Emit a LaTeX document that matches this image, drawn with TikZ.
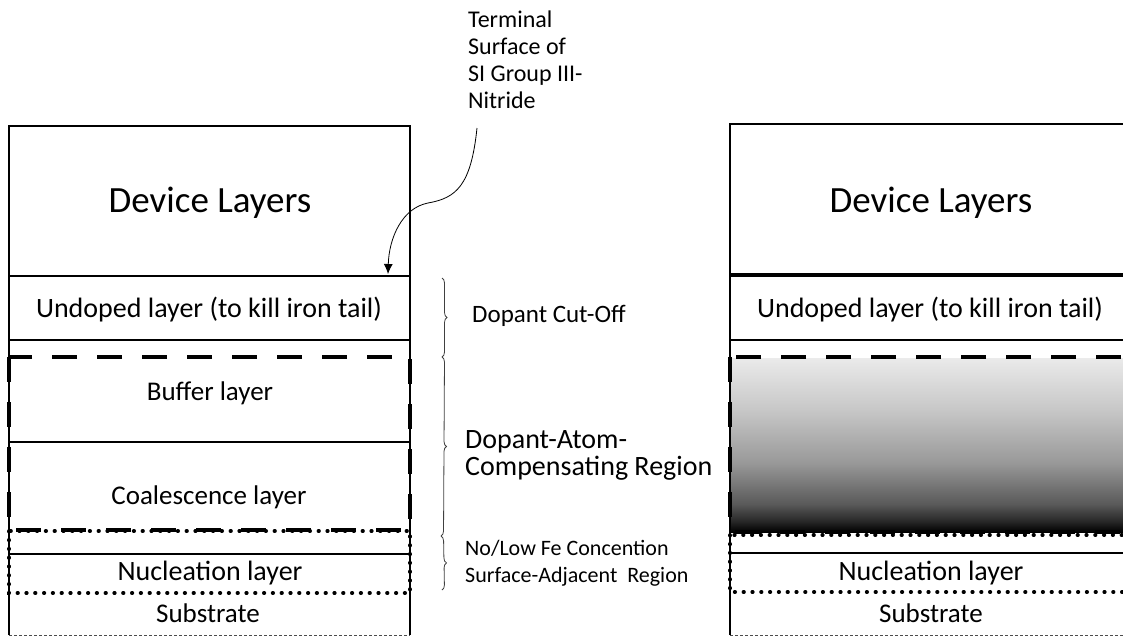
\documentclass[tikz,border=0pt]{standalone}
\usepackage{fontspec}
\setmainfont{Carlito}
\usetikzlibrary{arrows.meta,decorations.pathreplacing}

% Iron profile in the compensating region: light at the top, black at the bottom
\pgfdeclareverticalshading{feprofile}{100bp}{%
  color(0bp)=(black); color(25bp)=(black); color(28bp)=(black!85);
  color(33bp)=(black!65); color(45bp)=(black!40); color(60bp)=(black!22);
  color(75bp)=(black!8); color(100bp)=(black!8)}

\begin{document}
\begin{tikzpicture}[x=1pt,y=-1pt,
  outline/.style={draw=black, line width=1.5pt},
  heavyline/.style={draw=black, line width=3.2pt},
  dashreg/.style={draw=black, line width=4pt, dash pattern=on 25pt off 20pt},
  dotreg/.style={draw=black, line width=3.6pt, line cap=round, dash pattern=on 0.6pt off 8.2pt},
  baseline/.style={draw=black!70, line width=0.8pt, densely dashed},
  brc/.style={decorate, decoration={brace, amplitude=5pt}, draw=black!75, line width=0.8pt},
  big/.style={font=\fontsize{37}{42}\selectfont, inner sep=0pt},
  mid/.style={font=\fontsize{28}{32}\selectfont, inner sep=0pt},
  sml/.style={font=\fontsize{27}{31}\selectfont, inner sep=0pt},
  note/.style={inner sep=0pt, anchor=west, align=left}]
\useasboundingbox (0,0) rectangle (1123,643);
\clip (0,0) rectangle (1123,643);

% ---------------- left stack ----------------
\draw[outline] (9,635) -- (9,126) -- (410,126) -- (410,635);
\draw[baseline] (9,635) -- (410,635);
\draw[outline] (9,276) -- (410,276);
\draw[outline] (9,340) -- (410,340);
\draw[outline] (9,442) -- (410,442);
\draw[outline] (9,554) -- (410,554);
\draw[dashreg] (9,357) rectangle (410,530);
\draw[dotreg] (9,531) rectangle (410,593);

\node[big] (devL) at (210,203) {Device Layers};
\node[mid] (undL) at (209,310) {Undoped layer (to kill iron tail)};
\node[sml] (bufL) at (210,393) {Buffer layer};
\node[sml] (coaL) at (209,497) {Coalescence layer};
\node[mid] (nucL) at (210,573) {Nucleation layer};
\node[sml] (subL) at (208,613) {Substrate};

% ---------------- right stack ----------------
\shade[shading=feprofile] (730,358) rectangle (1135,532);
\draw[outline] (730,635) -- (730,124) -- (1135,124);
\draw[baseline] (730,635) -- (1135,635);
\draw[heavyline] (730,275) -- (1135,275);
\draw[outline] (730,340) -- (1135,340);
\draw[outline] (730,553) -- (1135,553);
\draw[dashreg] (730,357) rectangle (1133,532);
\draw[dotreg] (730,535) rectangle (1133,592);

\node[big] (devR) at (931,203) {Device Layers};
\node[mid] (undR) at (930,310) {Undoped layer (to kill iron tail)};
\node[mid] (nucR) at (931,573) {Nucleation layer};
\node[sml] (subR) at (931,613) {Substrate};

% ---------------- annotations ----------------
\coordinate (cutT) at (442,278);
\coordinate (cutB) at (442,357);
\coordinate (compB) at (441,536);
\coordinate (surfB) at (442,590);
\draw[brc] (cutT) -- (cutB);
\draw[brc] (cutB) -- (compB);
\draw[brc] (compB) -- (surfB);

\node[note, font=\fontsize{25}{28}\selectfont] (cutoff) at (472,316) {Dopant Cut-Off};
\node[note, font=\fontsize{28}{27}\selectfont] (comp) at (465,455)
  {Dopant-Atom-\\Compensating Region};
\node[note, font=\fontsize{22}{27}\selectfont] (surf) at (465,563)
  {No/Low Fe Concention\\Surface-Adjacent\ \ Region};
\node[note, anchor=north west, font=\fontsize{24}{27}\selectfont] (term) at (468,11)
  {Terminal\\Surface of\\SI Group III-\\Nitride};

\coordinate (tstart) at (477,128);
\coordinate (tsurf) at (388,274);
\draw[black, line width=0.8pt, -{Latex[length=10pt,width=9pt]}]
  (tstart) .. controls (471,186) and (456,198) .. (428,203)
           .. controls (402,208) and (389,238) .. (tsurf);
\end{tikzpicture}
\end{document}
